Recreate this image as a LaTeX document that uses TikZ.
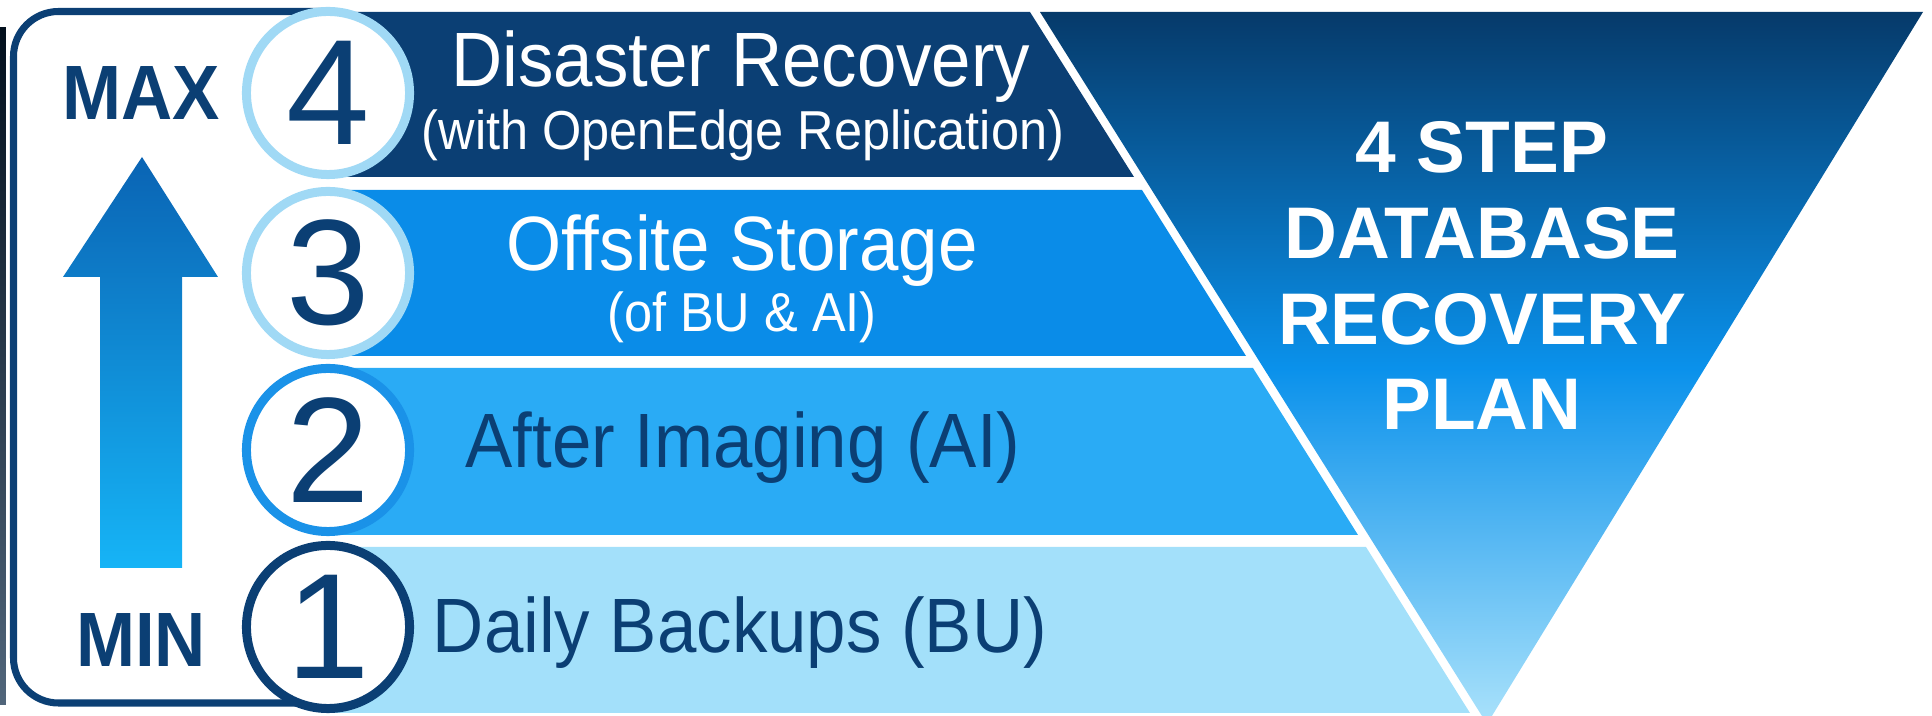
\documentclass[tikz,border=0pt]{standalone}
\usepackage{fontspec}
\setmainfont{Liberation Sans}
\newfontfamily\narrowsf[FakeStretch=0.92]{Liberation Sans}
\usepackage{xcolor}
\usepackage{tikz}

\definecolor{navy}{RGB}{11,63,116}
\definecolor{bandthree}{RGB}{10,140,232}
\definecolor{bandtwo}{RGB}{42,171,245}
\definecolor{bandone}{RGB}{163,224,250}
\definecolor{ringlight}{RGB}{160,217,245}
\definecolor{ringmid}{RGB}{26,146,232}
\definecolor{funneltop}{RGB}{6,58,106}
\definecolor{funnelmid}{RGB}{10,145,235}
\definecolor{funnelbot}{RGB}{170,226,251}
\definecolor{arrowtop}{RGB}{10,100,180}
\definecolor{arrowbot}{RGB}{22,180,246}

\begin{document}
\begin{tikzpicture}[
  x=0.01cm, y=-0.01cm,
  numcirc/.style={circle, fill=white, line width=2.56pt, minimum size=1.63cm,
                  inner sep=0pt, text=navy, font=\fontsize{42.7}{50}\selectfont},
  bandmain/.style={anchor=base, inner sep=0pt, font=\narrowsf\fontsize{21.9}{26}\selectfont},
  bandsub/.style={anchor=base, inner sep=0pt, font=\narrowsf\fontsize{15.6}{19}\selectfont},
  minmax/.style={anchor=base, inner sep=0pt, text=navy,
                 font=\narrowsf\bfseries\fontsize{21.9}{26}\selectfont}
]
  \useasboundingbox (0,0) rectangle (1932,716);

  \shade[top color=black!75!navy, bottom color=navy!40!gray] (0,28) rectangle (6,705);
  \draw[navy, line width=2pt, rounded corners=0.45cm]
    (330,11.5) -- (13.5,11.5) -- (13.5,703) -- (330,703);

  \fill[navy]      (330,12)  -- (1030,12)  -- (1134,177) -- (330,177) -- cycle;
  \fill[bandthree] (330,190) -- (1142,190) -- (1246,356) -- (330,356) -- cycle;
  \fill[bandtwo]   (330,368) -- (1253,368) -- (1358,535) -- (330,535) -- cycle;
  \fill[bandone]   (330,547) -- (1366,547) -- (1470,713) -- (330,713) -- cycle;

  \shade[top color=funneltop, bottom color=funnelbot, middle color=funnelmid]
    (1040,12) -- (1923,12) -- (1487,724) -- cycle;

  \shade[top color=arrowtop, bottom color=arrowbot]
    (142,157) -- (218,277) -- (182,277) -- (182,568) -- (100,568) -- (100,277) -- (63,277) -- cycle;

  \node[numcirc, draw=ringlight] (c4) at (328,93)  {4};
  \node[numcirc, draw=ringlight] (c3) at (328,273) {3};
  \node[numcirc, draw=ringmid]   (c2) at (328,450) {2};
  \node[numcirc, draw=navy]      (c1) at (328,627) {1};

  \node[minmax] (max) at (141,120) {MAX};
  \node[minmax] (min) at (141,667) {MIN};

  \node[bandmain, text=white] (t4) at (741,87)  {Disaster Recovery};
  \node[bandsub,  text=white] (t4sub) at (743,150) {(with OpenEdge Replication)};
  \node[bandmain, text=white] (t3) at (742,271) {Offsite Storage};
  \node[bandsub,  text=white] (t3sub) at (742,332) {(of BU \& AI)};
  \node[bandmain, text=navy]  (t2) at (743,468) {After Imaging (AI)};
  \node[bandmain, text=navy]  (t1) at (740,653) {Daily Backups (BU)};

  \node[anchor=base, align=center, inner sep=0pt, text=white,
        font=\bfseries\fontsize{20.8}{24.4}\selectfont] (plan) at (1482,430)
        {4 STEP\\DATABASE\\RECOVERY\\PLAN};
\end{tikzpicture}
\end{document}
